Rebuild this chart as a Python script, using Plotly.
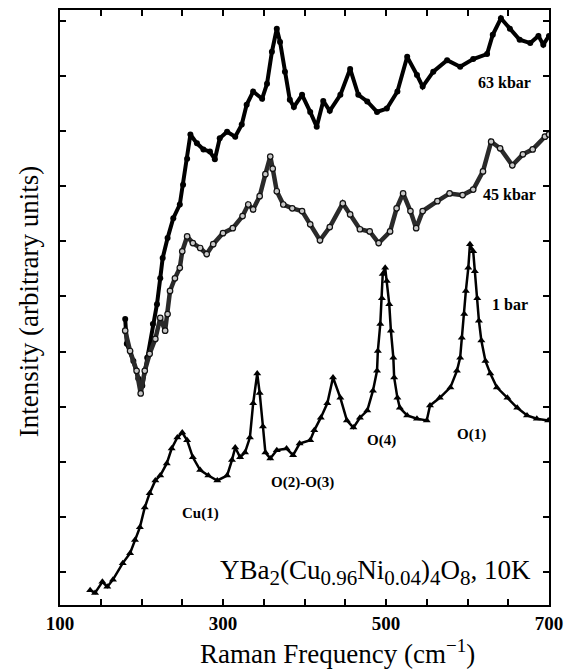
import plotly.graph_objects as go

# Raman frequency (cm-1) and intensity (arbitrary units)
x_1bar = [137, 143, 152, 158, 165, 177, 186, 192, 198, 204, 210, 217, 223, 231, 237, 244, 250, 256, 263,
          272, 282, 293, 305, 311, 315, 321, 327, 333, 337, 342, 345, 349, 352, 358, 366, 378, 386, 394,
          407, 412, 420, 428, 435, 444, 452, 460, 468, 477, 484, 489, 490, 493, 495, 496, 499, 501, 504,
          506, 509, 510, 514, 517, 526, 538, 550, 554, 566, 579, 587, 591, 593, 596, 598, 601, 603, 607,
          609, 612, 614, 617, 622, 628, 636, 649, 661, 673, 685, 699]
y_1bar = [-0.33, -0.38, -0.18, -0.27, -0.14, 0.16, 0.34, 0.58, 0.81, 1.17, 1.43, 1.66, 1.75, 1.97, 2.24,
          2.44, 2.53, 2.39, 2.08, 1.85, 1.75, 1.66, 1.75, 2.03, 2.26, 2.08, 2.17, 2.44, 3.06, 3.60, 3.25,
          2.64, 2.17, 2.06, 2.21, 2.24, 2.12, 2.33, 2.39, 2.57, 2.80, 3.06, 3.53, 3.16, 2.75, 2.62, 2.80,
          2.93, 3.29, 3.65, 4.01, 4.50, 4.97, 5.41, 5.52, 5.28, 4.86, 4.38, 3.89, 3.53, 3.16, 2.98, 2.84,
          2.78, 2.75, 3.02, 3.16, 3.35, 3.65, 3.89, 4.25, 4.68, 5.10, 5.52, 5.95, 5.82, 5.46, 4.97, 4.56,
          4.20, 3.83, 3.60, 3.35, 3.16, 2.98, 2.84, 2.78, 2.75]

x_45 = [180, 186, 194, 199, 204, 210, 217, 223, 229, 232, 235, 241, 247, 250, 256, 263, 272, 280, 288,
        300, 312, 324, 331, 337, 345, 352, 358, 361, 366, 374, 385, 397, 407, 419, 431, 447, 456, 468,
        480, 491, 505, 513, 521, 530, 537, 545, 563, 578, 594, 607, 619, 629, 640, 655, 668, 680, 695, 700]
y_45 = [4.38, 4.01, 3.65, 3.24, 3.65, 3.96, 4.23, 4.61, 4.38, 4.68, 5.10, 5.33, 5.52, 5.82, 6.09, 5.97,
        5.88, 5.77, 5.95, 6.15, 6.24, 6.46, 6.67, 6.58, 6.82, 7.22, 7.54, 7.32, 6.91, 6.67, 6.60, 6.55,
        6.31, 6.02, 6.26, 6.69, 6.49, 6.22, 6.18, 5.97, 6.18, 6.60, 6.87, 6.55, 6.24, 6.55, 6.73, 6.87,
        6.84, 6.94, 7.27, 7.81, 7.69, 7.38, 7.58, 7.67, 7.90, 7.94]

x_63 = [180, 182, 190, 196, 201, 207, 214, 219, 223, 226, 232, 239, 247, 251, 256, 260, 268, 276, 284,
        290, 296, 305, 315, 323, 329, 337, 348, 354, 360, 366, 370, 376, 382, 387, 397, 407, 415, 423,
        431, 444, 456, 466, 477, 489, 501, 514, 526, 538, 545, 558, 575, 591, 607, 624, 631, 641, 652,
        664, 677, 687, 693, 700]
y_63 = [4.59, 4.14, 3.83, 3.51, 3.38, 3.89, 4.50, 4.86, 5.33, 5.70, 6.06, 6.42, 6.67, 7.03, 7.50, 7.94,
        7.78, 7.67, 7.63, 7.49, 7.87, 7.99, 7.90, 8.12, 8.48, 8.72, 8.59, 8.86, 9.44, 9.86, 9.62, 9.08,
        8.57, 8.44, 8.66, 8.35, 8.08, 8.55, 8.37, 8.66, 9.13, 8.66, 8.54, 8.35, 8.41, 8.72, 9.35, 9.02,
        8.81, 9.08, 9.29, 9.17, 9.31, 9.40, 9.75, 10.05, 9.86, 9.66, 9.60, 9.73, 9.57, 9.73]

x_ticks = [100, 150, 200, 250, 300, 350, 400, 450, 500, 550, 600, 650, 700]
x_ticktext = ["100", "", "", "", "300", "", "", "", "500", "", "", "", "700"]
y_ticks = [0, 1, 2, 3, 4, 5, 6, 7, 8, 9, 10]

series_labels = ["63 kbar", "45 kbar", "1 bar"]
peak_labels = ["Cu(1)", "O(2)-O(3)", "O(4)", "O(1)"]

SERIF = "Liberation Serif"

fig = go.Figure()
fig.add_trace(go.Scatter(
    x=x_63, y=y_63, mode="lines+markers", name=series_labels[0],
    line=dict(color="black", width=4),
    marker=dict(symbol="circle", size=6, color="black"),
))
fig.add_trace(go.Scatter(
    x=x_45, y=y_45, mode="lines+markers", name=series_labels[1],
    line=dict(color="#2a2a2a", width=4.5),
    marker=dict(symbol="circle", size=5.5, color="#c8c8c8", line=dict(color="#111111", width=1.2)),
))
fig.add_trace(go.Scatter(
    x=x_1bar, y=y_1bar, mode="lines+markers", name=series_labels[2],
    line=dict(color="black", width=2.5),
    marker=dict(symbol="triangle-up", size=7, color="black"),
))

annotations = [
    dict(x=645, y=8.88, text="<b>%s</b>" % series_labels[0], font=dict(family=SERIF, size=16, color="black")),
    dict(x=652, y=6.85, text="<b>%s</b>" % series_labels[1], font=dict(family=SERIF, size=16, color="black")),
    dict(x=652, y=4.86, text="<b>%s</b>" % series_labels[2], font=dict(family=SERIF, size=16, color="black")),
    dict(x=273, y=1.07, text="<b>%s</b>" % peak_labels[0], font=dict(family=SERIF, size=15, color="black")),
    dict(x=397, y=1.63, text="<b>%s</b>" % peak_labels[1], font=dict(family=SERIF, size=15, color="black")),
    dict(x=495, y=2.39, text="<b>%s</b>" % peak_labels[2], font=dict(family=SERIF, size=15, color="black")),
    dict(x=605, y=2.50, text="<b>%s</b>" % peak_labels[3], font=dict(family=SERIF, size=15, color="black")),
]
for a in annotations:
    a.update(xref="x", yref="y", showarrow=False, xanchor="center", yanchor="middle")


def sub(s):
    return '<sub><span style="font-size:21px">%s</span></sub>' % s


formula = "YBa" + sub("2") + "(Cu" + sub("0.96") + "Ni" + sub("0.04") + ")" + sub("4") + "O" + sub("8") + ", 10K"
annotations.append(dict(
    x=0.967, y=0.022, xref="paper", yref="paper", xanchor="right", yanchor="bottom", showarrow=False,
    text=formula, font=dict(family=SERIF, size=27, color="black"),
))
annotations.append(dict(
    x=0.567, y=0, xref="paper", yref="paper", xanchor="center", yanchor="middle", yshift=-47,
    showarrow=False, text='Raman Frequency (cm<sup><span style="font-size:19px">−1</span></sup>)',
    font=dict(family=SERIF, size=27, color="black"),
))
annotations.append(dict(
    x=0, y=0.509, xref="paper", yref="paper", xanchor="center", yanchor="middle", xshift=-31,
    showarrow=False, textangle=-90, text="Intensity (arbitrary units)",
    font=dict(family=SERIF, size=27, color="black"),
))

fig.update_layout(
    width=575, height=670,
    margin=dict(l=60, r=26, t=8, b=65),
    paper_bgcolor="white", plot_bgcolor="white",
    showlegend=False,
    annotations=annotations,
    xaxis=dict(
        range=[100, 700], tickmode="array", tickvals=x_ticks, ticktext=x_ticktext,
        ticks="inside", ticklen=6, tickwidth=1.5, tickcolor="black",
        showline=True, linecolor="black", linewidth=2, mirror="allticks",
        showgrid=False, zeroline=False,
        tickfont=dict(family=SERIF, size=19, color="black", weight="bold"),
    ),
    yaxis=dict(
        range=[-0.6, 10.2], tickmode="array", tickvals=y_ticks,
        ticks="inside", ticklen=6, tickwidth=1.5, tickcolor="black",
        showline=True, linecolor="black", linewidth=2, mirror="allticks",
        showgrid=False, zeroline=False, showticklabels=False,
    ),
)

fig.write_html("out.html", config={"displayModeBar": False})

# remove the default page margin so the figure sits at the window's top-left corner
with open("out.html", encoding="utf-8") as f:
    html = f.read()
html = html.replace("<head>", "<head><style>html,body{margin:0;padding:0;overflow:hidden;}</style>", 1)
with open("out.html", "w", encoding="utf-8") as f:
    f.write(html)
